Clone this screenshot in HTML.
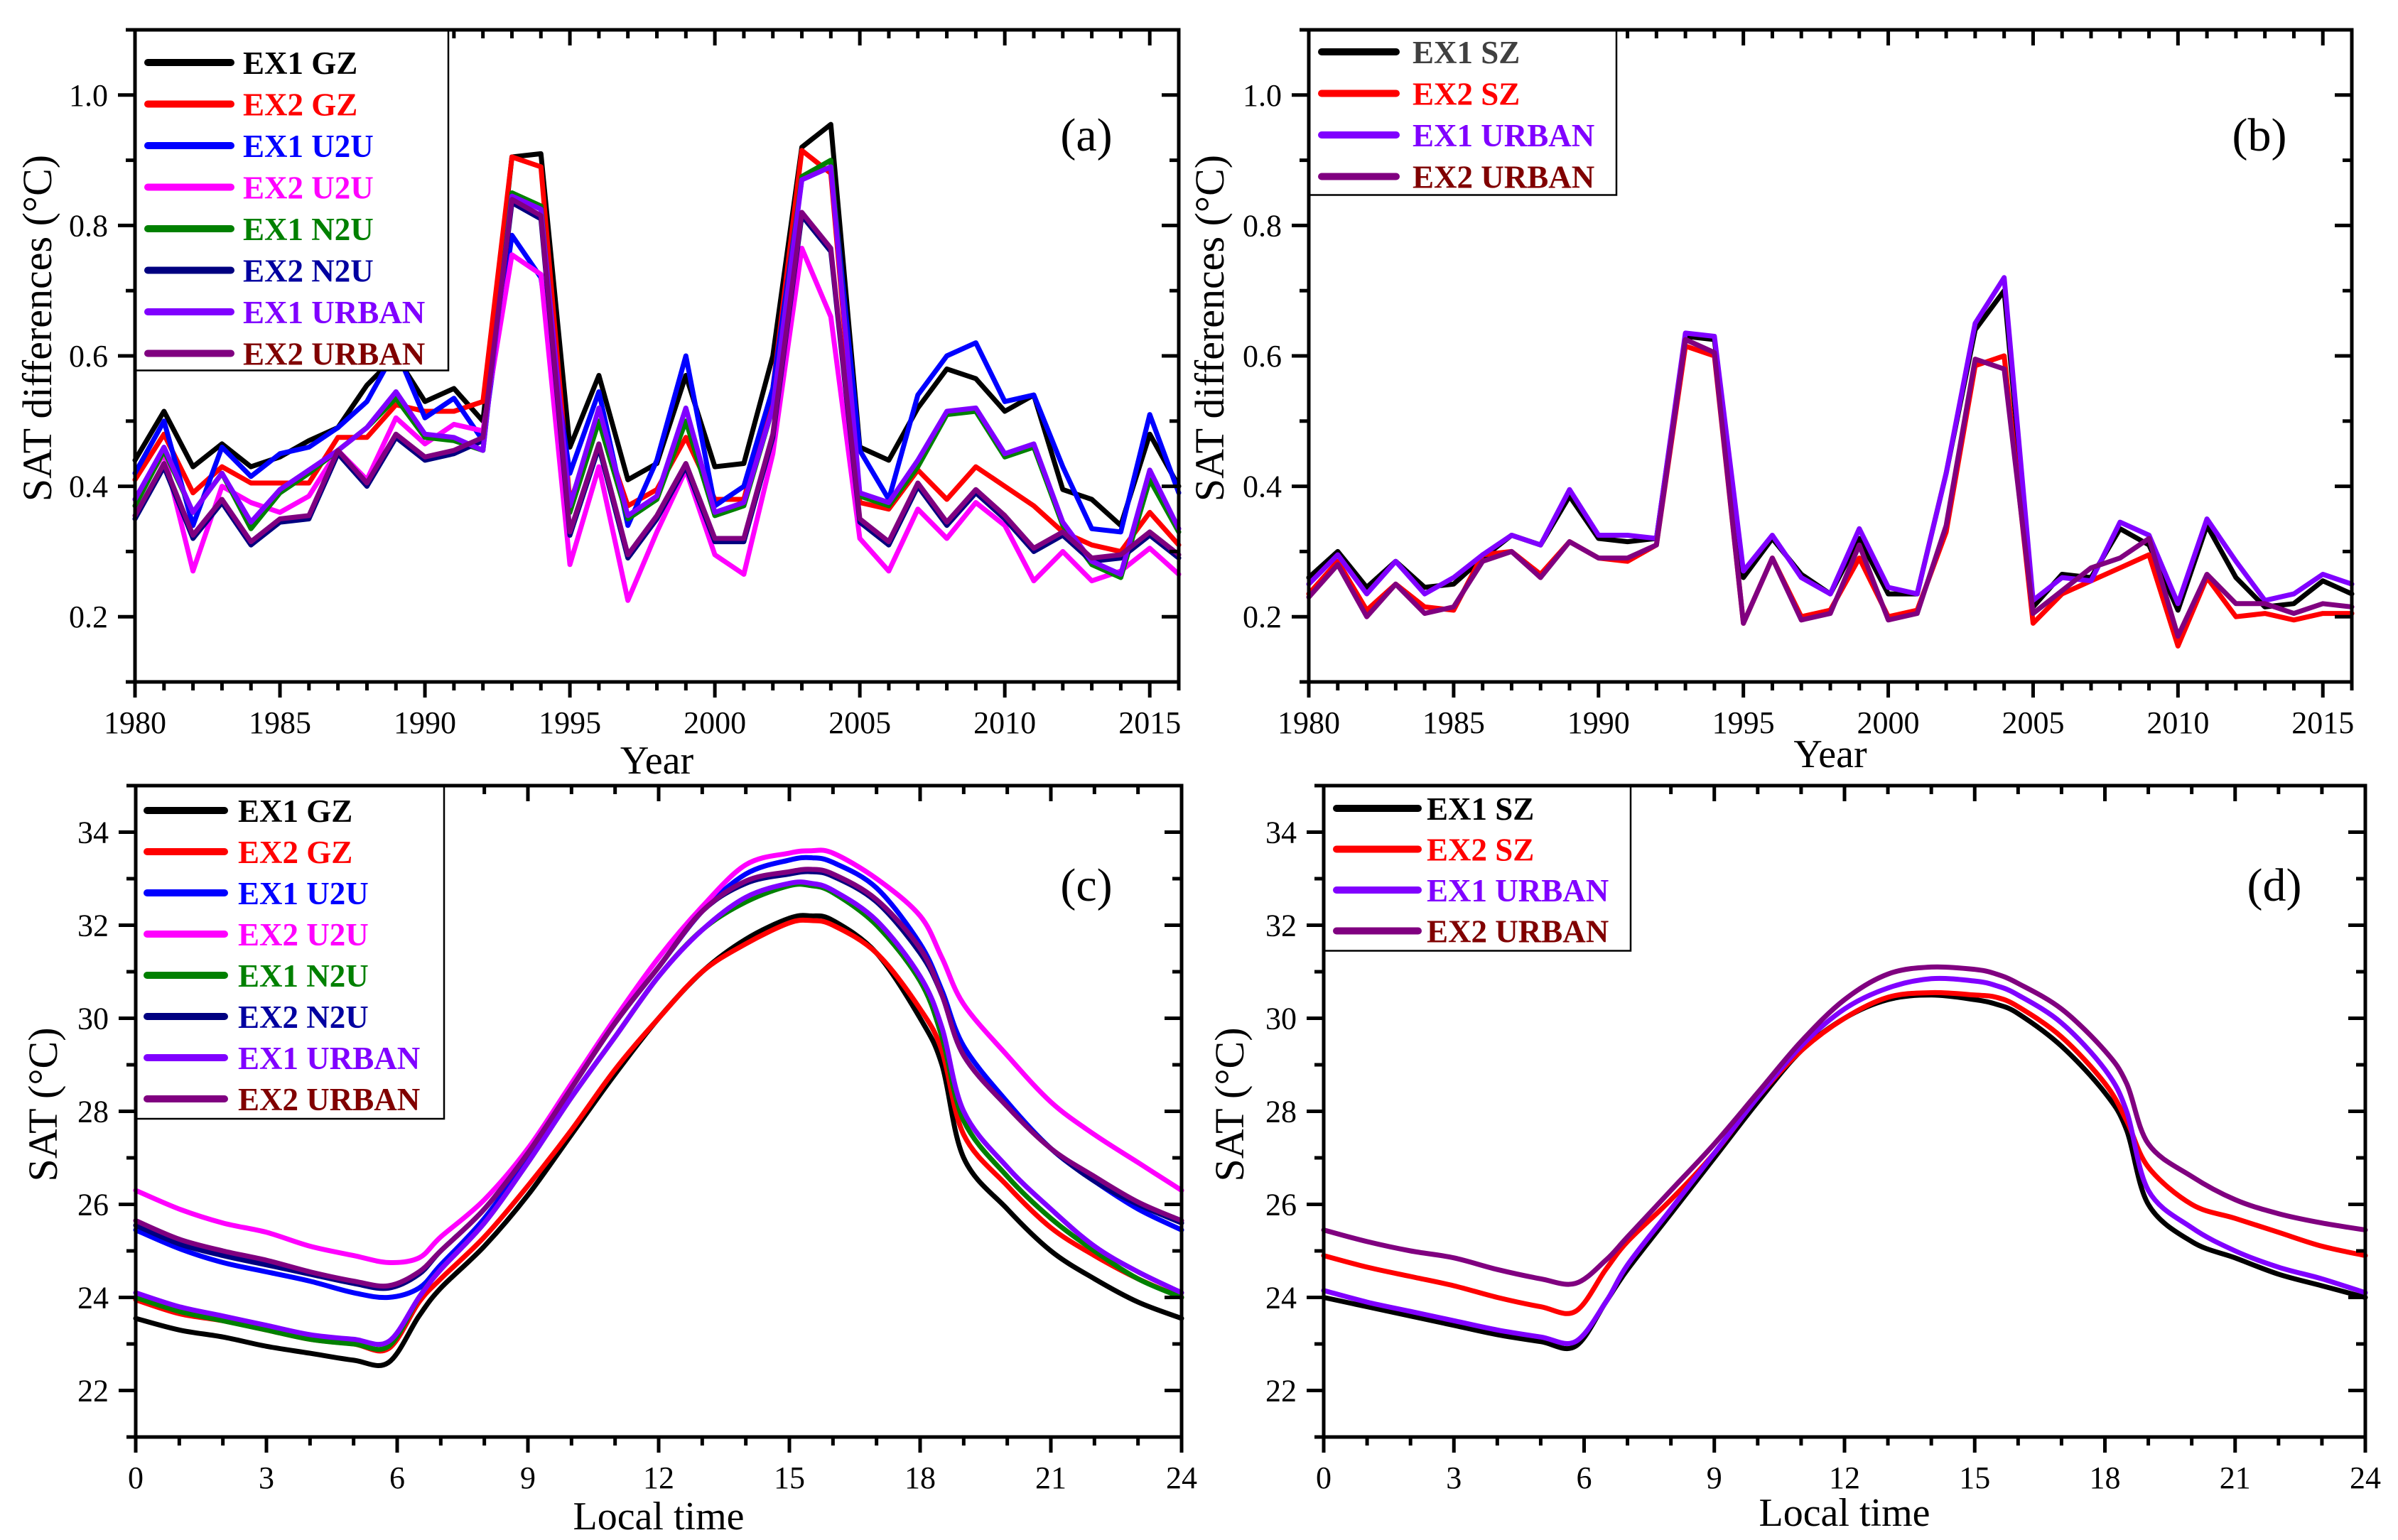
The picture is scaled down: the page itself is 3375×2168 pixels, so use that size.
<!DOCTYPE html>
<html><head><meta charset="utf-8">
<style>
html,body{margin:0;padding:0;background:#fff;}
svg{display:block;}
text{font-family:"Liberation Serif","DejaVu Serif",serif;}
</style></head>
<body>
<svg id="fig" width="3375" height="2168" viewBox="0 0 3375 2168" xmlns="http://www.w3.org/2000/svg"></svg>
<script>
// ---------- Panel (a) data ----------
const yearsA = [1980,1981,1982,1983,1984,1985,1986,1987,1988,1989,1990,1991,1992,1993,1994,1995,1996,1997,1998,1999,2000,2001,2002,2003,2004,2005,2006,2007,2008,2009,2010,2011,2012,2013,2014,2015,2016];
const aEX1GZ   = [0.44,0.515,0.43,0.465,0.43,0.445,0.47,0.49,0.555,0.60,0.53,0.55,0.50,0.905,0.91,0.46,0.57,0.41,0.435,0.57,0.43,0.435,0.60,0.92,0.955,0.46,0.44,0.52,0.58,0.565,0.515,0.54,0.395,0.38,0.34,0.48,0.40];
const aEX2GZ   = [0.41,0.48,0.39,0.43,0.405,0.405,0.405,0.475,0.475,0.525,0.515,0.515,0.53,0.905,0.89,0.375,0.50,0.37,0.395,0.475,0.38,0.38,0.55,0.915,0.88,0.375,0.365,0.425,0.38,0.43,0.40,0.37,0.33,0.31,0.30,0.36,0.31];
const aEX1U2U  = [0.42,0.50,0.34,0.46,0.415,0.45,0.46,0.49,0.53,0.61,0.505,0.535,0.47,0.785,0.72,0.42,0.545,0.34,0.44,0.60,0.37,0.40,0.55,0.87,0.89,0.455,0.38,0.54,0.60,0.62,0.53,0.54,0.43,0.335,0.33,0.51,0.39];
const aEX2U2U  = [0.38,0.45,0.27,0.40,0.375,0.36,0.385,0.455,0.41,0.505,0.465,0.495,0.485,0.755,0.725,0.28,0.43,0.225,0.33,0.425,0.295,0.265,0.45,0.765,0.66,0.32,0.27,0.365,0.32,0.375,0.34,0.255,0.30,0.255,0.27,0.305,0.265];
const aEX1N2U  = [0.37,0.455,0.36,0.42,0.335,0.39,0.42,0.455,0.49,0.535,0.475,0.47,0.455,0.85,0.83,0.36,0.50,0.35,0.38,0.50,0.355,0.37,0.52,0.875,0.90,0.385,0.37,0.43,0.51,0.515,0.445,0.46,0.34,0.28,0.26,0.41,0.33];
const aEX2N2U  = [0.35,0.43,0.32,0.375,0.31,0.345,0.35,0.45,0.40,0.475,0.44,0.45,0.47,0.835,0.81,0.325,0.46,0.29,0.35,0.43,0.315,0.315,0.475,0.815,0.76,0.345,0.31,0.40,0.34,0.39,0.35,0.30,0.325,0.285,0.29,0.325,0.29];
const aEX1URB  = [0.38,0.46,0.36,0.42,0.345,0.395,0.425,0.455,0.49,0.545,0.48,0.475,0.455,0.845,0.825,0.37,0.52,0.355,0.385,0.52,0.36,0.375,0.52,0.87,0.89,0.39,0.375,0.44,0.515,0.52,0.45,0.465,0.345,0.285,0.265,0.425,0.335];
const aEX2URB  = [0.355,0.435,0.325,0.38,0.315,0.35,0.355,0.455,0.405,0.48,0.445,0.455,0.475,0.84,0.815,0.33,0.465,0.295,0.355,0.435,0.32,0.32,0.48,0.82,0.765,0.35,0.315,0.405,0.345,0.395,0.355,0.305,0.33,0.29,0.295,0.33,0.295];
// ---------- Panel (b) data ----------
const bEX1SZ   = [0.26,0.30,0.245,0.285,0.245,0.25,0.29,0.325,0.31,0.385,0.32,0.315,0.32,0.63,0.625,0.26,0.32,0.265,0.235,0.32,0.235,0.235,0.42,0.64,0.70,0.215,0.265,0.26,0.335,0.31,0.21,0.34,0.26,0.215,0.22,0.255,0.235];
const bEX2SZ   = [0.235,0.285,0.21,0.25,0.215,0.21,0.295,0.30,0.265,0.315,0.29,0.285,0.31,0.615,0.60,0.19,0.29,0.20,0.21,0.29,0.20,0.21,0.33,0.585,0.60,0.19,0.235,0.255,0.275,0.295,0.155,0.26,0.20,0.205,0.195,0.205,0.205];
const bEX1URB  = [0.25,0.295,0.235,0.285,0.235,0.26,0.295,0.325,0.31,0.395,0.325,0.325,0.32,0.635,0.63,0.27,0.325,0.26,0.235,0.335,0.245,0.235,0.42,0.65,0.72,0.225,0.26,0.255,0.345,0.325,0.22,0.35,0.285,0.225,0.235,0.265,0.25];
const bEX2URB  = [0.23,0.28,0.20,0.25,0.205,0.215,0.285,0.30,0.26,0.315,0.29,0.29,0.31,0.625,0.605,0.19,0.29,0.195,0.205,0.31,0.195,0.205,0.34,0.595,0.58,0.205,0.24,0.275,0.29,0.32,0.17,0.265,0.22,0.22,0.205,0.22,0.215];
// ---------- Panel (c) data ----------
const hours = [0,1,2,3,4,5,5.8,6.5,7,8,9,10,11,12,13,14,15,15.5,16,17,18,18.5,19,20,21,22,23,24];
const cEX1GZ  = [23.55,23.3,23.15,22.95,22.8,22.65,22.6,23.6,24.2,25.1,26.2,27.5,28.8,30.0,31.0,31.7,32.15,32.2,32.1,31.4,30.0,29.0,27.0,25.9,25.0,24.4,23.9,23.55];
const cEX2GZ  = [23.95,23.65,23.5,23.3,23.1,23.0,22.9,23.9,24.4,25.3,26.4,27.6,28.9,30.0,31.0,31.6,32.05,32.1,32.0,31.4,30.2,29.3,27.5,26.4,25.5,24.9,24.4,24.0];
const cEX1U2U = [25.45,25.05,24.75,24.55,24.35,24.1,24.0,24.2,24.7,25.7,27.0,28.5,29.9,31.1,32.3,33.1,33.4,33.45,33.35,32.8,31.6,30.6,29.4,28.2,27.2,26.5,25.9,25.45];
const cEX2U2U = [26.3,25.9,25.6,25.4,25.1,24.9,24.75,24.85,25.3,26.1,27.2,28.6,30.0,31.3,32.4,33.3,33.55,33.6,33.55,33.0,32.2,31.3,30.3,29.2,28.2,27.5,26.9,26.3];
const cEX1N2U = [24.0,23.7,23.5,23.3,23.1,23.0,22.95,24.0,24.6,25.6,26.9,28.3,29.6,30.9,31.9,32.5,32.85,32.85,32.7,32.0,30.8,29.6,27.8,26.6,25.7,25.0,24.4,24.0];
const cEX2N2U = [25.55,25.15,24.9,24.7,24.5,24.3,24.2,24.5,25.0,25.9,27.1,28.5,29.9,31.1,32.3,32.9,33.1,33.15,33.05,32.5,31.4,30.5,29.2,28.1,27.2,26.5,26.0,25.6];
const cEX1URB = [24.1,23.8,23.6,23.4,23.2,23.1,23.05,24.0,24.6,25.6,26.9,28.3,29.6,30.9,31.9,32.6,32.9,32.9,32.75,32.1,30.9,29.8,28.0,26.8,25.9,25.1,24.55,24.1];
const cEX2URB = [25.65,25.25,25.0,24.8,24.55,24.35,24.25,24.55,25.0,25.9,27.1,28.5,29.9,31.1,32.3,32.95,33.15,33.2,33.1,32.55,31.5,30.5,29.2,28.1,27.2,26.6,26.05,25.65];
// ---------- Panel (d) data ----------
const dEX1SZ  = [24.0,23.8,23.6,23.4,23.2,23.05,22.95,23.9,24.6,25.8,27.0,28.2,29.3,30.0,30.4,30.5,30.4,30.3,30.1,29.4,28.4,27.6,26.0,25.2,24.85,24.5,24.25,24.0];
const dEX2SZ  = [24.9,24.65,24.45,24.25,24.0,23.8,23.7,24.6,25.2,26.1,27.1,28.3,29.3,30.0,30.45,30.55,30.5,30.45,30.25,29.6,28.6,27.8,26.8,26.0,25.7,25.4,25.1,24.9];
const dEX1URB = [24.15,23.9,23.7,23.5,23.3,23.15,23.05,23.9,24.7,25.9,27.1,28.3,29.4,30.2,30.65,30.85,30.8,30.7,30.5,29.9,28.9,28.0,26.3,25.5,25.0,24.65,24.4,24.1];
const dEX2URB = [25.45,25.2,25.0,24.85,24.6,24.4,24.3,24.8,25.3,26.3,27.3,28.4,29.5,30.4,30.95,31.1,31.05,30.95,30.75,30.2,29.3,28.6,27.3,26.6,26.1,25.8,25.6,25.45];
// ---------- tick labels ----------
const yearTicks = [1980,1985,1990,1995,2000,2005,2010,2015];
const diffTicks = ["0.2","0.4","0.6","0.8","1.0"];
const hourTicks = [0,3,6,9,12,15,18,21,24];
const satTicks = [22,24,26,28,30,32,34];

const NS = "http://www.w3.org/2000/svg";
const svg = document.getElementById('fig');
function mk(tag, attrs, parent){
  const e = document.createElementNS(NS, tag);
  for (const k in attrs) e.setAttribute(k, attrs[k]);
  (parent||svg).appendChild(e);
  return e;
}

function smoothPath(pts){
  let d = "M"+pts[0][0].toFixed(1)+","+pts[0][1].toFixed(1);
  for (let i=0;i<pts.length-1;i++){
    const p0=pts[Math.max(0,i-1)], p1=pts[i], p2=pts[i+1], p3=pts[Math.min(pts.length-1,i+2)];
    const c1x=p1[0]+(p2[0]-p0[0])/6, c1y=p1[1]+(p2[1]-p0[1])/6;
    const c2x=p2[0]-(p3[0]-p1[0])/6, c2y=p2[1]-(p3[1]-p1[1])/6;
    d += " C"+c1x.toFixed(1)+","+c1y.toFixed(1)+" "+c2x.toFixed(1)+","+c2y.toFixed(1)+" "+p2[0].toFixed(1)+","+p2[1].toFixed(1);
  }
  return d;
}

function panel(cfg){
  const g = mk('g', {});
  
  
  const L=cfg.L, R=cfg.R, T=cfg.T, B=cfg.B;
  const sx = v => L + (v-cfg.xmin)/(cfg.xmax-cfg.xmin)*(R-L);
  const sy = v => B - (v-cfg.ymin)/(cfg.ymax-cfg.ymin)*(B-T);

  // series
  const sg = mk('g', {}, g);
  
  
  cfg.series.forEach(s=>{
    const pts = cfg.xs.map((x,i)=>[sx(x), sy(s.data[i])]);
    let d;
    if (cfg.smooth) d = smoothPath(pts);
    else d = "M" + pts.map(p=>p[0].toFixed(1)+","+p[1].toFixed(1)).join(" L");
    const p = mk('path', {d:d, fill:'none', stroke:s.color, 'stroke-width':7, 'stroke-linejoin':'round', 'stroke-linecap':'round'}, sg);
    
    
  });
  // clip overflow area cover not needed; draw axes frame
  const frame = mk('rect', {x:L, y:T, width:R-L, height:B-T, fill:'none', stroke:'#000', 'stroke-width':5}, g);
  
  

  // x ticks
  for (let v=cfg.xmin; v<=cfg.xmax+1e-9; v+=cfg.xminor){
    const isMajor = Math.abs(((v-cfg.xmin)/cfg.xmajor) - Math.round((v-cfg.xmin)/cfg.xmajor))<1e-6;
    const len = isMajor?22:12;
    const x = sx(v);
    mk('line',{x1:x,y1:B,x2:x,y2:B+len,stroke:'#000','stroke-width':5},g);
    mk('line',{x1:x,y1:T,x2:x,y2:T+len,stroke:'#000','stroke-width':5},g);
  }
  for (let v=cfg.ymin; v<=cfg.ymax+1e-9; v+=cfg.yminor){
    const k=(v-cfg.ymin)/cfg.yminor;
    const isMajor = Math.round(k)%2===1;
    const len = isMajor?24:13;
    const y = sy(v);
    mk('line',{x1:L-len,y1:y,x2:L,y2:y,stroke:'#000','stroke-width':5},g);
    mk('line',{x1:R-len,y1:y,x2:R,y2:y,stroke:'#000','stroke-width':5},g);
  }
  // x tick labels
  cfg.xticks.forEach(v=>{
    const t = mk('text',{x:sx(v), y:B+72, 'font-size':44, 'text-anchor':'middle', fill:'#000'}, g);
    t.textContent = v;
    
    
  });
  cfg.yticks.forEach(v=>{
    const t = mk('text',{x:L-38, y:sy(parseFloat(v))+15, 'font-size':44, 'text-anchor':'end', fill:'#000'}, g);
    t.textContent = v;
    
    
  });
  // axis titles
  const xt = mk('text',{x:(L+R)/2, y:cfg.xtitleY, 'font-size':56, 'text-anchor':'middle', fill:'#000'}, g);
  xt.textContent = cfg.xtitle;
  
  
  const yt = mk('text',{x:0, y:0, 'font-size':58, 'text-anchor':'middle', fill:'#000', transform:'translate('+cfg.ytitleX+','+cfg.ytitleCY+') rotate(-90)'}, g);
  yt.textContent = cfg.ytitle;
  
  
  // panel label
  const pl = mk('text',{x:cfg.labX, y:cfg.labY, 'font-size':66, 'text-anchor':'middle', fill:'#000'}, g);
  pl.textContent = cfg.label;
  
  

  // legend
  const lg = mk('g',{},g);
  
  
  const n = cfg.series.length;
  const lb = mk('rect',{x:L, y:T, width:cfg.legW, height:cfg.legFirst-T+(n-1)*cfg.legStep+cfg.legPadB, fill:'#fff', stroke:'#000','stroke-width':2.5}, lg);
  
  
  cfg.series.forEach((s,i)=>{
    const y = cfg.legFirst + i*cfg.legStep;
    const e = mk('g',{},lg);
    
    
    mk('line',{x1:L+cfg.legLx1, y1:y, x2:L+cfg.legLx2, y2:y, stroke:s.color,'stroke-width':10,'stroke-linecap':'round'}, e);
    const t = mk('text',{x:L+cfg.legTx, y:y+16, 'font-size':45, 'font-weight':'bold', fill:s.tcolor||s.color}, e);
    t.textContent = s.label;
  });
  // re-draw left axis line over legend box
  mk('line',{x1:L,y1:T,x2:L,y2:B,stroke:'#000','stroke-width':5},g);
  mk('line',{x1:L,y1:T,x2:R,y2:T,stroke:'#000','stroke-width':5},g);
}

const C = {black:'#000000', red:'#ff0000', blue:'#0000ff', mag:'#ff00ff', green:'#008000', navy:'#000080', purple:'#8000ff', dpurple:'#800080'};

panel({name:'panel-a', L:190, R:1659, T:42, B:960, xmin:1980, xmax:2016, ymin:0.1, ymax:1.1,
  xminor:1, xmajor:5, yminor:0.1, xs:yearsA, smooth:false,
  xticks:yearTicks, yticks:diffTicks, xtitle:'Year', xtitleY:1089, ytitle:'SAT differences (°C)', ytitleX:72, ytitleCY:462,
  label:'(a)', labX:1529, labY:212,
  legW:441, legFirst:88, legStep:58.5, legPadB:24, legLx1:18, legLx2:135, legTx:152,
  series:[
   {key:'ex1-gz', label:'EX1 GZ', color:C.black, data:aEX1GZ},
   {key:'ex2-gz', label:'EX2 GZ', color:C.red, data:aEX2GZ},
   {key:'ex1-u2u', label:'EX1 U2U', color:C.blue, data:aEX1U2U},
   {key:'ex2-u2u', label:'EX2 U2U', color:C.mag, data:aEX2U2U},
   {key:'ex1-n2u', label:'EX1 N2U', color:C.green, data:aEX1N2U},
   {key:'ex2-n2u', label:'EX2 N2U', color:C.navy, tcolor:'#0000a0', data:aEX2N2U},
   {key:'ex1-urban', label:'EX1 URBAN', color:C.purple, data:aEX1URB},
   {key:'ex2-urban', label:'EX2 URBAN', color:C.dpurple, tcolor:'#800000', data:aEX2URB}
  ]});

panel({name:'panel-b', L:1842, R:3310, T:42, B:960, xmin:1980, xmax:2016, ymin:0.1, ymax:1.1,
  xminor:1, xmajor:5, yminor:0.1, xs:yearsA, smooth:false,
  xticks:yearTicks, yticks:diffTicks, xtitle:'Year', xtitleY:1080, ytitle:'SAT differences (°C)', ytitleX:1722, ytitleCY:462,
  label:'(b)', labX:3180, labY:212,
  legW:433, legFirst:73, legStep:58.5, legPadB:26, legLx1:18, legLx2:123, legTx:146,
  series:[
   {key:'ex1-sz', label:'EX1 SZ', color:C.black, tcolor:'#404040', data:bEX1SZ},
   {key:'ex2-sz', label:'EX2 SZ', color:C.red, data:bEX2SZ},
   {key:'ex1-urban', label:'EX1 URBAN', color:C.purple, data:bEX1URB},
   {key:'ex2-urban', label:'EX2 URBAN', color:C.dpurple, tcolor:'#800000', data:bEX2URB}
  ]});

panel({name:'panel-c', L:191, R:1663, T:1106, B:2023, xmin:0, xmax:24, ymin:21, ymax:35,
  xminor:1, xmajor:3, yminor:1, xs:hours, smooth:true,
  xticks:hourTicks, yticks:satTicks.map(String), xtitle:'Local time', xtitleY:2153, ytitle:'SAT (°C)', ytitleX:80, ytitleCY:1555,
  label:'(c)', labX:1529, labY:1268,
  legW:434, legFirst:1141, legStep:58, legPadB:28, legLx1:16, legLx2:125, legTx:144,
  series:[
   {key:'ex1-gz', label:'EX1 GZ', color:C.black, data:cEX1GZ},
   {key:'ex2-gz', label:'EX2 GZ', color:C.red, data:cEX2GZ},
   {key:'ex1-u2u', label:'EX1 U2U', color:C.blue, data:cEX1U2U},
   {key:'ex2-u2u', label:'EX2 U2U', color:C.mag, data:cEX2U2U},
   {key:'ex1-n2u', label:'EX1 N2U', color:C.green, data:cEX1N2U},
   {key:'ex2-n2u', label:'EX2 N2U', color:C.navy, tcolor:'#0000a0', data:cEX2N2U},
   {key:'ex1-urban', label:'EX1 URBAN', color:C.purple, data:cEX1URB},
   {key:'ex2-urban', label:'EX2 URBAN', color:C.dpurple, tcolor:'#800000', data:cEX2URB}
  ]});

panel({name:'panel-d', L:1863, R:3329, T:1106, B:2023, xmin:0, xmax:24, ymin:21, ymax:35,
  xminor:1, xmajor:3, yminor:1, xs:hours, smooth:true,
  xticks:hourTicks, yticks:satTicks.map(String), xtitle:'Local time', xtitleY:2148, ytitle:'SAT (°C)', ytitleX:1750, ytitleCY:1555,
  label:'(d)', labX:3201, labY:1268,
  legW:432, legFirst:1138, legStep:57.5, legPadB:28, legLx1:18, legLx2:133, legTx:145,
  series:[
   {key:'ex1-sz', label:'EX1 SZ', color:C.black, data:dEX1SZ},
   {key:'ex2-sz', label:'EX2 SZ', color:C.red, data:dEX2SZ},
   {key:'ex1-urban', label:'EX1 URBAN', color:C.purple, data:dEX1URB},
   {key:'ex2-urban', label:'EX2 URBAN', color:C.dpurple, tcolor:'#800000', data:dEX2URB}
  ]});
</script>
</body></html>
